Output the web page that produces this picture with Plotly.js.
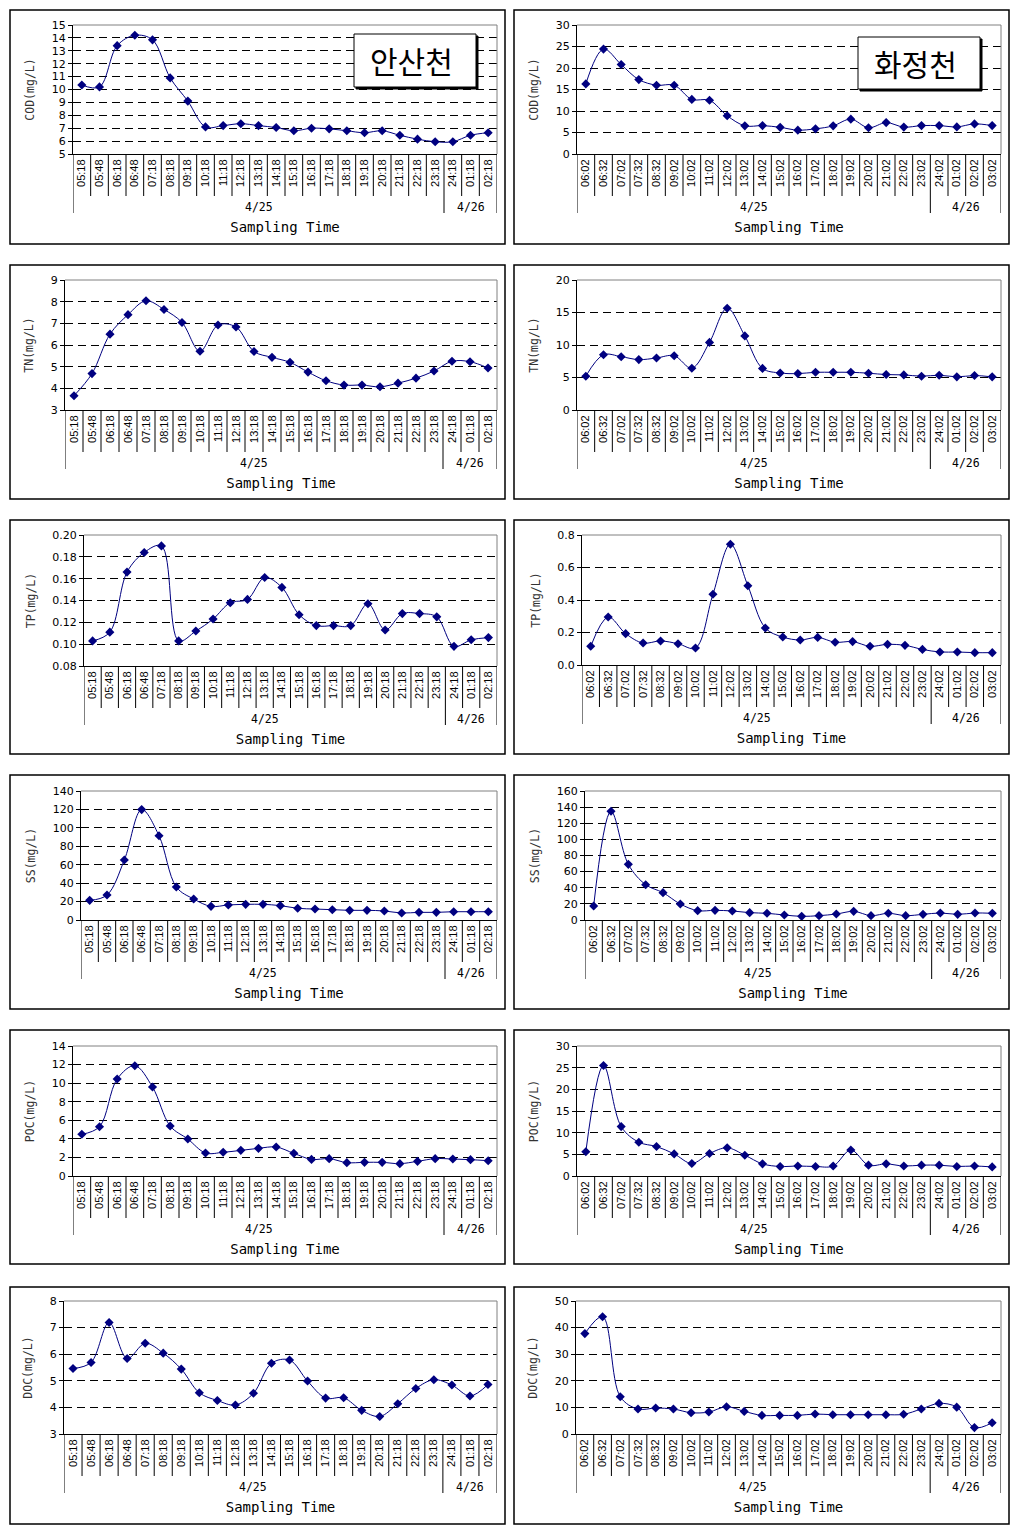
<!DOCTYPE html>
<html><head><meta charset="utf-8">
<script src="https://cdn.plot.ly/plotly-3.0.1.min.js"></script>
<style>html,body{margin:0;padding:0;background:#fff}#chart{width:1026px;height:1534px}</style>
</head><body><div id="chart"></div>
<script>
// ---------------- data ----------------
const timesA = ['05:18','05:48','06:18','06:48','07:18','08:18','09:18','10:18','11:18','12:18','13:18','14:18','15:18','16:18','17:18','18:18','19:18','20:18','21:18','22:18','23:18','24:18','01:18','02:18'];
const datesA = ['4/25','4/25','4/25','4/25','4/25','4/25','4/25','4/25','4/25','4/25','4/25','4/25','4/25','4/25','4/25','4/25','4/25','4/25','4/25','4/25','4/25','4/26','4/26','4/26'];
const timesB = ['06:02','06:32','07:02','07:32','08:32','09:02','10:02','11:02','12:02','13:02','14:02','15:02','16:02','17:02','18:02','19:02','20:02','21:02','22:02','23:02','24:02','01:02','02:02','03:02'];
const datesB = ['4/25','4/25','4/25','4/25','4/25','4/25','4/25','4/25','4/25','4/25','4/25','4/25','4/25','4/25','4/25','4/25','4/25','4/25','4/25','4/25','4/26','4/26','4/26','4/26'];
const stations = ['안산천','화정천'];

const codA = [10.35,10.2,13.4,14.2,13.85,10.9,9.1,7.1,7.2,7.35,7.2,7.05,6.8,7.0,6.95,6.8,6.65,6.8,6.45,6.15,5.95,5.95,6.45,6.65];
const codB = [16.3,24.4,20.8,17.3,16.0,16.0,12.7,12.5,8.9,6.55,6.6,6.2,5.55,5.85,6.55,8.1,6.1,7.3,6.25,6.6,6.6,6.3,7.0,6.6];
const tnA  = [3.66,4.68,6.5,7.4,8.04,7.64,7.04,5.71,6.92,6.83,5.7,5.43,5.2,4.75,4.35,4.15,4.15,4.07,4.24,4.47,4.8,5.25,5.23,4.94];
const tnB  = [5.2,8.5,8.2,7.75,8.0,8.35,6.43,10.4,15.66,11.4,6.4,5.7,5.6,5.8,5.8,5.8,5.66,5.45,5.4,5.2,5.35,5.1,5.3,5.1];
const tpA  = [0.103,0.111,0.166,0.184,0.190,0.103,0.112,0.123,0.138,0.141,0.161,0.152,0.127,0.117,0.117,0.117,0.137,0.113,0.128,0.128,0.125,0.098,0.104,0.106];
const tpB  = [0.115,0.295,0.193,0.135,0.148,0.131,0.105,0.435,0.743,0.488,0.228,0.172,0.154,0.170,0.140,0.144,0.115,0.127,0.121,0.096,0.080,0.080,0.076,0.076];
const ssA  = [21.3,27.1,65.1,119.8,91.5,35.8,22.8,14.8,16.3,17.0,17.0,15.6,12.7,11.9,11.2,10.5,10.5,9.8,7.6,8.3,8.3,9.0,9.0,9.0];
const ssB  = [17.4,134.8,69.0,43.8,33.9,19.8,11.6,12.0,11.2,9.1,8.3,6.2,4.5,5.4,7.4,10.7,5.4,8.3,5.4,7.0,8.7,7.0,8.7,8.3];
const pocA = [4.49,5.31,10.45,11.88,9.58,5.38,3.98,2.48,2.55,2.76,2.98,3.12,2.44,1.79,1.87,1.44,1.47,1.47,1.33,1.58,1.87,1.83,1.76,1.65];
const pocB = [5.6,25.5,11.4,7.8,6.8,5.1,2.9,5.2,6.5,4.8,2.8,2.2,2.3,2.2,2.3,6.0,2.5,2.8,2.3,2.5,2.5,2.2,2.3,2.1];
const docA = [5.46,5.69,7.19,5.84,6.41,6.04,5.44,4.55,4.26,4.09,4.53,5.66,5.78,4.99,4.35,4.36,3.89,3.66,4.14,4.71,5.04,4.84,4.43,4.86];
const docB = [37.75,44.1,14.0,9.4,9.75,9.4,8.0,8.25,10.25,8.5,7.0,7.0,7.0,7.5,7.25,7.25,7.25,7.25,7.4,9.4,11.5,10.1,2.4,4.25];

const yTitles = ['COD(mg/L)','TN(mg/L)','TP(mg/L)','SS(mg/L)','POC(mg/L)','DOC(mg/L)'];
const xTitle = 'Sampling Time';

// ---------------- layout config (pixels) ----------------
const W = 1026, H = 1534;
const NAVY = '#000080';
const panels = [
  {y:codA, t:timesA, d:datesA, title:yTitles[0], range:[5,15],   dtick:1,    fmt:'d',   plot:[73,25,497,154],   frame:[10,10,505,244]},
  {y:codB, t:timesB, d:datesB, title:yTitles[0], range:[0,30],   dtick:5,    fmt:'d',   plot:[577,25,1001,154], frame:[514,10,1009,244]},
  {y:tnA,  t:timesA, d:datesA, title:yTitles[1], range:[3,9],    dtick:1,    fmt:'d',   plot:[65,280,497,410],  frame:[10,265,505,499]},
  {y:tnB,  t:timesB, d:datesB, title:yTitles[1], range:[0,20],   dtick:5,    fmt:'d',   plot:[577,280,1001,410],frame:[514,265,1009,499]},
  {y:tpA,  t:timesA, d:datesA, title:yTitles[2], range:[0.08,0.20], dtick:0.02, fmt:'.2f', plot:[84,535,497,666], frame:[10,520,505,754]},
  {y:tpB,  t:timesB, d:datesB, title:yTitles[2], range:[0,0.8],  dtick:0.2,  fmt:'.1f', plot:[582,535,1001,665],frame:[514,520,1009,754]},
  {y:ssA,  t:timesA, d:datesA, title:yTitles[3], range:[0,140],  dtick:20,   fmt:'d',   plot:[81,791,497,920],  frame:[10,775,505,1009]},
  {y:ssB,  t:timesB, d:datesB, title:yTitles[3], range:[0,160],  dtick:20,   fmt:'d',   plot:[585,791,1001,920],frame:[514,775,1009,1009]},
  {y:pocA, t:timesA, d:datesA, title:yTitles[4], range:[0,14],   dtick:2,    fmt:'d',   plot:[73,1046,497,1176],frame:[10,1030,505,1264]},
  {y:pocB, t:timesB, d:datesB, title:yTitles[4], range:[0,30],   dtick:5,    fmt:'d',   plot:[577,1046,1001,1176],frame:[514,1030,1009,1264]},
  {y:docA, t:timesA, d:datesA, title:yTitles[5], range:[3,8],    dtick:1,    fmt:'d',   plot:[64,1301,497,1434],frame:[10,1287,505,1524]},
  {y:docB, t:timesB, d:datesB, title:yTitles[5], range:[0,50],   dtick:10,   fmt:'d',   plot:[576,1301,1001,1434],frame:[514,1287,1009,1524]}
];
const stationBoxes = [[354,34,476,87],[858,37,980,89]];

const px = v => v / W;
const py = v => 1 - v / H;

const traces = [];
const layout = {
  width: W, height: H, margin:{l:0,r:0,t:0,b:0},
  paper_bgcolor:'#fff', plot_bgcolor:'#fff', showlegend:false,
  shapes: [], annotations: []
};

panels.forEach((p, i) => {
  const n = i + 1;
  const xa = 'x' + n, ya = 'y' + n;
  const [x0, y0, x1, y1] = p.plot;
  traces.push({
    type:'scatter', mode:'lines+markers', x:p.t, y:p.y,
    xaxis:xa, yaxis:ya,
    line:{shape:'spline', smoothing:1, color:NAVY, width:1},
    marker:{symbol:'diamond', size:7, color:NAVY},
    hoverinfo:'skip'
  });
  layout['xaxis' + n] = {
    domain:[px(x0), px(x1)], anchor:ya, type:'category',
    range:[-0.5, p.t.length - 0.5], fixedrange:true,
    showgrid:false, zeroline:false, showline:true, linecolor:'#000', linewidth:1,
    ticks:'', tickangle:-90,
    tickfont:{family:'Liberation Sans, Arial, sans-serif', size:11, color:'#000'},
    title:{text:xTitle, standoff:36, font:{family:'DejaVu Sans Mono, monospace', size:14, color:'#000'}},
    automargin:false
  };
  layout['yaxis' + n] = {
    domain:[py(y1), py(y0)], anchor:xa, range:p.range, fixedrange:true,
    tick0:p.range[0], dtick:p.dtick, tickformat:p.fmt,
    showline:true, linecolor:'#000', linewidth:1,
    ticks:'outside', ticklen:4, tickcolor:'#000',
    showgrid:true, gridcolor:'#000', gridwidth:1, griddash:'8px,5px', zeroline:false,
    tickfont:{family:'DejaVu Sans, sans-serif', size:11, color:'#000'},
    title:{text:p.title, standoff:14, font:{family:'DejaVu Sans Mono, monospace', size:11.5, color:'#333'}},
    automargin:false
  };
  // panel frame
  const [fx0, fy0, fx1, fy1] = p.frame;
  layout.shapes.push({type:'rect', xref:'paper', yref:'paper', x0:px(fx0), x1:px(fx1), y0:py(fy1), y1:py(fy0),
    line:{color:'#000', width:1.5}, fillcolor:'rgba(0,0,0,0)', layer:'below'});
  // plot-area top and right edges (grey)
  layout.shapes.push({type:'line', xref:xa + ' domain', yref:ya + ' domain', x0:0, x1:1, y0:1, y1:1, line:{color:'#808080', width:1}, layer:'above'});
  layout.shapes.push({type:'line', xref:xa + ' domain', yref:ya + ' domain', x0:1, x1:1, y0:0, y1:1, line:{color:'#808080', width:1}, layer:'above'});
  // category dividers and date groups
  const groupStarts = [0];
  for (let k = 1; k < p.d.length; k++) if (p.d[k] !== p.d[k-1]) groupStarts.push(k);
  for (let k = 0; k <= p.t.length; k++) {
    const major = (k === 0 || k === p.t.length || groupStarts.includes(k));
    layout.shapes.push({type:'line', xref:xa, yref:'paper', x0:k - 0.5, x1:k - 0.5,
      y0:py(y1), y1:py(y1 + (major ? 59 : 42)), line:{color:'#000', width:1}});
  }
  groupStarts.forEach((s, gi) => {
    const e = (gi + 1 < groupStarts.length ? groupStarts[gi + 1] : p.d.length) - 1;
    layout.annotations.push({xref:xa, yref:'paper', x:(s + e) / 2, y:py(y1 + 53),
      text:p.d[s], showarrow:false, xanchor:'center', yanchor:'middle',
      font:{family:'DejaVu Sans Mono, monospace', size:11.5, color:'#000'}});
  });
});

// station name boxes
stationBoxes.forEach((b, i) => {
  const [bx0, by0, bx1, by1] = b;
  layout.shapes.push({type:'rect', xref:'paper', yref:'paper', x0:px(bx0 + 2), x1:px(bx1 + 2), y0:py(by1 + 2), y1:py(by0 + 2),
    line:{color:'#000', width:1}, fillcolor:'#000', layer:'above'});
  layout.shapes.push({type:'rect', xref:'paper', yref:'paper', x0:px(bx0), x1:px(bx1), y0:py(by1), y1:py(by0),
    line:{color:'#000', width:1}, fillcolor:'#fff', layer:'above'});
  layout.annotations.push({xref:'paper', yref:'paper', x:px((bx0 + bx1) / 2 - 4), y:py((by0 + by1) / 2),
    text:stations[i], showarrow:false, xanchor:'center', yanchor:'middle',
    font:{family:'Noto Sans CJK KR, sans-serif', size:30, color:'#000'}});
});

Plotly.newPlot('chart', traces, layout, {displayModeBar:false, staticPlot:true});
</script>
</body></html>
